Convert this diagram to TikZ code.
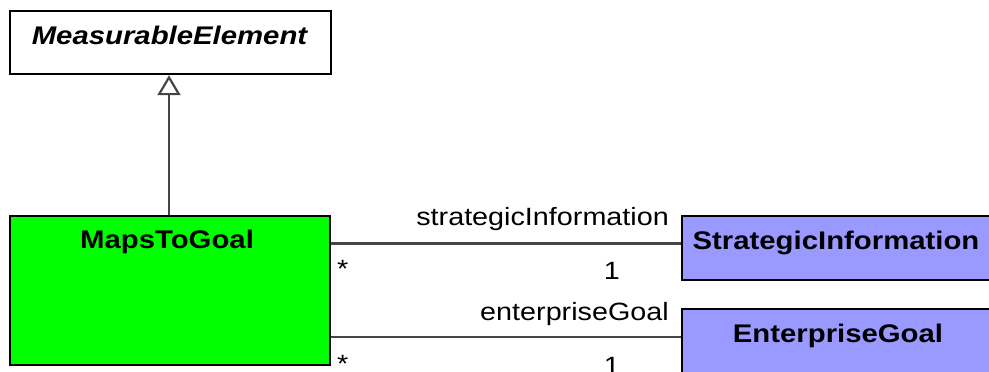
\documentclass[tikz,border=0pt]{standalone}
\usepackage{fontspec}
\setmainfont[FakeStretch=1.15]{Liberation Sans}
\usetikzlibrary{arrows.meta}
\definecolor{mapsgreen}{HTML}{00FF00}
\definecolor{classblue}{HTML}{9999FF}
\definecolor{linegray}{HTML}{454545}
\begin{document}
\begin{tikzpicture}[x=1pt,y=-1pt,
  classbox/.style={draw=black, line width=2.2pt, rectangle, inner sep=0pt, anchor=north west},
  title/.style={inner sep=0pt, anchor=base, font=\fontsize{25.5}{25.5}\selectfont\bfseries},
  role/.style={inner sep=0pt, font=\fontsize{25}{25}\selectfont},
  assoc/.style={draw=linegray, line width=2.2pt},
  gen/.style={draw=linegray, line width=2.2pt, -{Triangle[open, length=20pt, width=23pt, line width=2.2pt]}}]
\useasboundingbox (0,0) rectangle (989,372);
\begin{scope}
\clip (0,0) rectangle (989,372);
\node[classbox, fill=white, minimum width=321pt, minimum height=63pt] (me) at (9,10) {};
\node[classbox, fill=mapsgreen, minimum width=320pt, minimum height=149pt] (maps) at (9,215) {};
\node[classbox, fill=classblue, minimum width=312pt, minimum height=64pt] (si) at (681,215) {};
\node[classbox, fill=classblue, minimum width=312pt, minimum height=70pt] (eg) at (681,308) {};
\end{scope}
\node[title, font=\fontsize{25.5}{25.5}\selectfont\bfseries\itshape] (metext) at (169.5,45) {MeasurableElement};
\node[title] (mapstext) at (167,248) {MapsToGoal};
\node[title] (sitext) at (836,249) {StrategicInformation};
\node[title] (egtext) at (838,342) {EnterpriseGoal};
\draw[gen] (maps.north -| 169,0) -- (me.south -| 169,0);
\draw[assoc] (maps.east |- 0,243.5) -- (si.west |- 0,243.5);
\draw[assoc] (maps.east |- 0,337) -- (eg.west |- 0,337);
\node[role, anchor=base east] (r1) at (669,225) {strategicInformation};
\node[role, anchor=base west] (m1a) at (337,277) {*};
\node[role, anchor=base east] (m1b) at (620,279) {1};
\node[role, anchor=base east] (r2) at (669,320) {enterpriseGoal};
\node[role, anchor=base west] (m2a) at (337,372) {*};
\node[role, anchor=base east] (m2b) at (620,374) {1};
\end{tikzpicture}
\end{document}
